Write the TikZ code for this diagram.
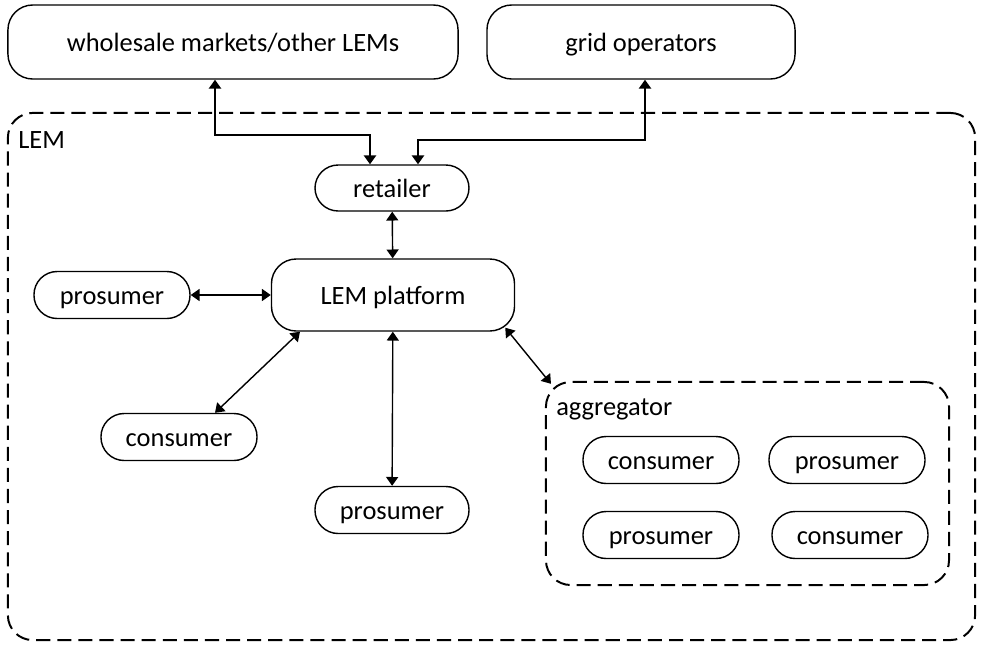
\documentclass[tikz,border=0pt]{standalone}
\usepackage{fontspec}
\setmainfont{Carlito}
\usetikzlibrary{arrows.meta,calc}

\tikzset{
  actor/.style={draw, line width=1pt, rounded corners=0.58cm, align=center,
    minimum width=3.9cm, minimum height=1.175cm, inner sep=0pt, text height=17pt, text depth=4pt,
    font=\fontsize{18.8}{20}\selectfont},
  market/.style={actor, minimum width=#1, minimum height=1.85cm, rounded corners=0.62cm},
  groupbox/.style={draw, line width=1.4pt, dash pattern=on 10pt off 5pt, rounded corners=0.62cm, inner sep=0pt},
  grouplabel/.style={anchor=west, inner sep=0pt, font=\fontsize{18.8}{20}\selectfont},
  flow/.style={line width=1pt, {Triangle[length=0.22cm,width=0.3cm]}-{Triangle[length=0.22cm,width=0.3cm]}},
  mainflow/.style={flow, line width=1.4pt}
}

\begin{document}
\begin{tikzpicture}[x=0.025cm, y=-0.025cm]
		%%%%% START %%%%%
		\useasboundingbox (0, 0) rectangle (981, 647);
		
		% outside the market
		\node[market=11.25cm] (wholesale) at (233, 42) {wholesale markets/other LEMs};
		\node[market=7.7cm] (grid) at (641, 42) {grid operators};
		
		% the local energy market
		\node[groupbox, minimum width=24.175cm, minimum height=13.175cm] (lem) at (491.5, 376.5) {};
		\node[grouplabel] (lemlabel) at (18, 140) {LEM};
		
		\node[actor, minimum width=3.85cm, minimum height=1.15cm] (retailer) at (392, 188) {retailer};
		\node[actor, minimum width=6.075cm, minimum height=1.8cm, rounded corners=0.62cm] (platform) at (393, 295) {LEM platform};
		\node[actor] (prosumerA) at (112, 295) {prosumer};
		\node[actor] (consumerA) at (179, 437) {consumer};
		\node[actor, minimum width=3.85cm] (prosumerB) at (392, 510) {prosumer};
		
		% aggregator group
		\node[groupbox, minimum width=10.075cm, minimum height=5.075cm] (agg) at (747.5, 483.5) {};
		\node[grouplabel] (agglabel) at (556, 409) {aggregator};
		\node[actor] (consumerB) at (661, 460) {consumer};
		\node[actor] (prosumerC) at (847, 460) {prosumer};
		\node[actor] (prosumerD) at (661, 535) {prosumer};
		\node[actor] (consumerC) at (850, 535) {consumer};
		
		% connections
		\coordinate (wbend) at (370, 135);
		\coordinate (gbend) at (418, 140);
		\draw[mainflow] ([xshift=-0.45cm]wholesale.south) |- (wbend) -- ([xshift=-0.55cm]retailer.north);
		\draw[mainflow] ([xshift=0.1cm]grid.south) |- (gbend) -- ([xshift=0.65cm]retailer.north);
		\draw[flow] (retailer) -- (platform);
		\draw[flow] (prosumerA) -- (platform);
		\draw[flow] ([xshift=-2.325cm]platform.south) -- ([xshift=0.9cm]consumerA.north);
		\draw[flow] (platform) -- (prosumerB);
		\draw[flow] ([xshift=-0.25cm,yshift=0.1cm]platform.south east) -- ([xshift=0.15cm,yshift=-0.07cm]agg.north west);
		
		%%%%% END %%%%%
	\end{tikzpicture}
\end{document}
